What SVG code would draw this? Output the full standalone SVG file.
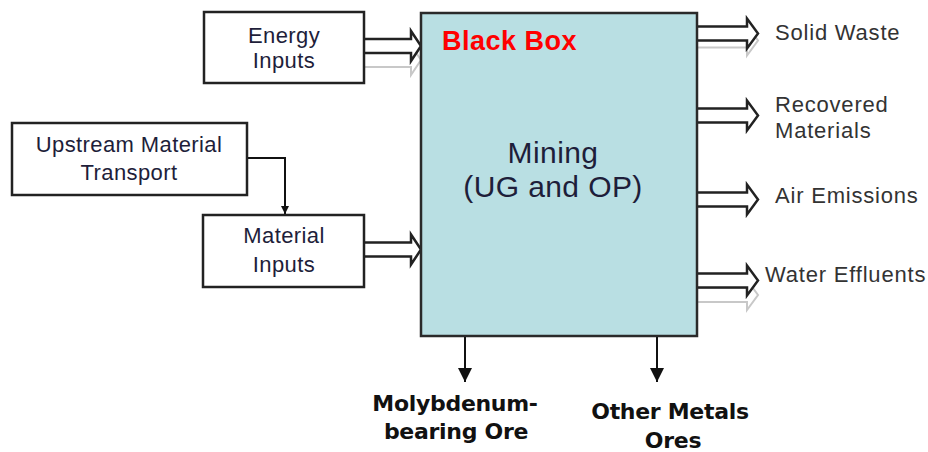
<svg xmlns="http://www.w3.org/2000/svg" width="928" height="452" viewBox="0 0 928 452">
<style>
  .box { fill: #ffffff; stroke: #222222; stroke-width: 2.5; }
  .main { fill: #b9dfe3; stroke: #2a2a2a; stroke-width: 2.5; }
  .lbl { font-family: "Liberation Sans", Arial, sans-serif; font-size: 22px; fill: #1e1e3a; text-anchor: middle; letter-spacing: 0.4px; }
  .out { font-family: "Liberation Sans", Arial, sans-serif; font-size: 22px; fill: #333333; letter-spacing: 0.8px; }
  .big { font-family: "Liberation Sans", Arial, sans-serif; font-size: 30px; fill: #1e1e3a; text-anchor: middle; letter-spacing: 0.4px; }
  .title { font-family: "Liberation Sans", Arial, sans-serif; font-size: 27px; font-weight: bold; fill: #ff0000; letter-spacing: 0.5px; }
  .ore { font-family: "DejaVu Sans", Verdana, sans-serif; font-size: 22px; font-weight: bold; fill: #111111; text-anchor: middle; letter-spacing: -0.3px; }
  .blk { fill: #ffffff; stroke: #222222; stroke-width: 2.5; stroke-linejoin: miter; }
  .ghost { fill: #ffffff; stroke: #c8c8c8; stroke-width: 2; }
  .conn { fill: none; stroke: #111111; stroke-width: 2; }
</style>
<defs>
  <path id="arrIn" d="M0,-7 H47 V-15 L57,0 L47,15 V7 H0"/>
  <path id="arrOut" d="M0,-7 H50 V-15 L61,0 L50,15 V7 H0"/>
  <marker id="head" markerUnits="userSpaceOnUse" markerWidth="16" markerHeight="14" refX="14" refY="7" orient="auto">
    <path d="M0,0 L14,7 L0,14 Z" fill="#111111"/>
  </marker>
  <marker id="headS" markerUnits="userSpaceOnUse" markerWidth="10" markerHeight="10" refX="8" refY="4" orient="auto">
    <path d="M0,0 L8,4 L0,8 Z" fill="#111111"/>
  </marker>
</defs>

<g id="connectors">
  <polyline class="conn" points="247,158 285,158 285,214" marker-end="url(#headS)"/>
  <use href="#arrIn" class="ghost" transform="translate(364,60)"/>
  <use href="#arrIn" class="blk" transform="translate(364,46)"/>
  <use href="#arrIn" class="blk" transform="translate(364,249.5)"/>
  <use href="#arrOut" class="ghost" transform="translate(697,40.5)"/>
  <use href="#arrOut" class="blk" transform="translate(697,33.5)"/>
  <use href="#arrOut" class="blk" transform="translate(697,115.5)"/>
  <use href="#arrOut" class="blk" transform="translate(697,199.5)"/>
  <use href="#arrOut" class="ghost" transform="translate(697,295)"/>
  <use href="#arrOut" class="blk" transform="translate(697,280.5)"/>
  <line class="conn" x1="465" y1="337" x2="465" y2="382" stroke-width="3" marker-end="url(#head)"/>
  <line class="conn" x1="657" y1="337" x2="657" y2="382" stroke-width="3" marker-end="url(#head)"/>
</g>

<g id="energy-inputs">
  <rect class="box" x="204" y="12" width="160" height="71"/>
  <text class="lbl" x="284" y="43">Energy</text>
  <text class="lbl" x="284" y="68">Inputs</text>
</g>

<g id="upstream-material-transport">
  <rect class="box" x="12" y="123" width="235" height="72"/>
  <text class="lbl" x="129" y="152">Upstream Material</text>
  <text class="lbl" x="129" y="180">Transport</text>
</g>

<g id="material-inputs">
  <rect class="box" x="203" y="215" width="161" height="72"/>
  <text class="lbl" x="284" y="243">Material</text>
  <text class="lbl" x="284" y="272">Inputs</text>
</g>

<g id="black-box">
  <rect class="main" x="421" y="13" width="276" height="323"/>
  <text class="title" x="442" y="50">Black Box</text>
  <text class="big" x="553" y="163">Mining</text>
  <text class="big" x="553" y="197">(UG and OP)</text>
</g>

<g id="solid-waste"><text class="out" x="775" y="40">Solid Waste</text></g>
<g id="recovered-materials">
  <text class="out" x="775" y="112">Recovered</text>
  <text class="out" x="775" y="138">Materials</text>
</g>
<g id="air-emissions"><text class="out" x="775" y="203">Air Emissions</text></g>
<g id="water-effluents"><text class="out" x="765" y="282">Water Effluents</text></g>

<g id="molybdenum-ore">
  <text class="ore" x="455" y="411">Molybdenum-</text>
  <text class="ore" x="456" y="439">bearing Ore</text>
</g>
<g id="other-metals-ores">
  <text class="ore" x="670" y="419">Other Metals</text>
  <text class="ore" x="673" y="448">Ores</text>
</g>
</svg>
